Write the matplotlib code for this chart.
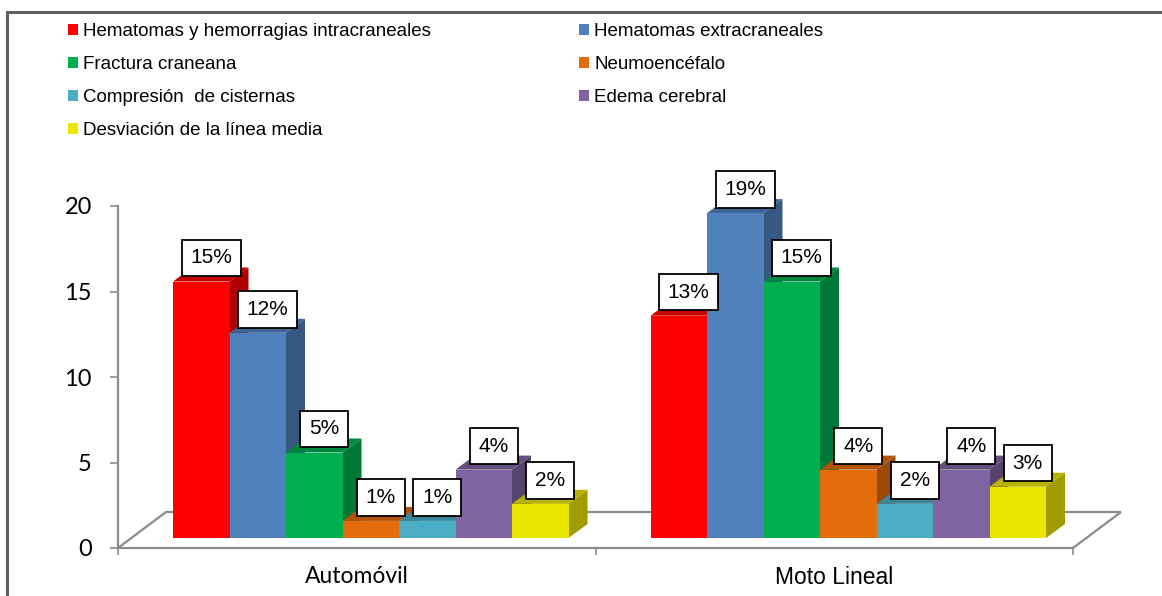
import matplotlib
matplotlib.use("Agg")
import matplotlib.pyplot as plt
from matplotlib.patches import Rectangle, Polygon, Patch
from matplotlib.colors import to_rgb

plt.rcParams["font.family"] = ["Liberation Sans", "DejaVu Sans"]

# ---------- data ----------
categories = ["Automóvil", "Moto Lineal"]
series = ["Hematomas y hemorragias intracraneales", "Hematomas extracraneales",
          "Fractura craneana", "Neumoencéfalo", "Compresión  de cisternas",
          "Edema cerebral", "Desviación de la línea media"]
automovil = [15, 12, 5, 1, 1, 4, 2]
moto_lineal = [13, 19, 15, 4, 2, 4, 3]
yticks = [0, 5, 10, 15, 20]
colors = ["#FF0000", "#4F81BD", "#00B050", "#E46C0A", "#4BACC6", "#8064A2", "#EBE600"]

GRAY = "#8C8C8C"; BORDER = "#5F5F5F"
W, H, DPI = 1162, 596, 100

def shade(c, f):
    return tuple(f * v for v in to_rgb(c))

fig = plt.figure(figsize=(W / DPI, H / DPI), dpi=DPI)
ax = fig.add_axes([118 / W, 48 / H, 955 / W, 342 / H])
ax.set_xlim(0, len(categories)); ax.set_ylim(yticks[0], yticks[-1])

# pixel -> data helpers for the oblique "3D" look
sx = ax.bbox.width / len(categories); sy = ax.bbox.height / (yticks[-1] - yticks[0])
def px(dx, dy): return dx / sx, dy / sy
FRONT = px(14, 10)   # bar front plane behind the axis plane
DEPTH = px(19, 14)   # bar depth
FLOOR = px(48, 36)   # floor depth
bw = 56.5 / sx

# floor outline
ax.plot([0, FLOOR[0], len(categories) + FLOOR[0], len(categories)], [0, FLOOR[1], FLOOR[1], 0],
        color=GRAY, lw=1.6, clip_on=False, zorder=1, solid_joinstyle="miter")

# bars: side, top, front; left to right so right neighbours sit in front
z = 3
for ci, vals in enumerate([automovil, moto_lineal]):
    x0 = ci + 0.5 - len(vals) * bw / 2
    for si, v in enumerate(vals):
        c = colors[si]
        xl = x0 + si * bw + FRONT[0]; xr = xl + bw
        yb = FRONT[1]; yt = yb + v
        ax.add_patch(Polygon([(xr, yb), (xr + DEPTH[0], yb + DEPTH[1]), (xr + DEPTH[0], yt + DEPTH[1]), (xr, yt)],
                             closed=True, fc=shade(c, 0.68), ec="none", zorder=z, clip_on=False))
        ax.add_patch(Polygon([(xl, yt), (xr, yt), (xr + DEPTH[0], yt + DEPTH[1]), (xl + DEPTH[0], yt + DEPTH[1])],
                             closed=True, fc=shade(c, 0.78), ec="none", zorder=z, clip_on=False))
        ax.add_patch(Rectangle((xl, yb), bw, v, fc=c, ec="none", zorder=z, clip_on=False))
        z += 1
        ax.annotate(f"{v}%", xy=(xl + bw / 2, yt), xytext=(10, 18), textcoords="offset pixels",
                    ha="center", va="baseline", fontsize=15, zorder=100,
                    bbox=dict(boxstyle="square,pad=0.42", fc="white", ec="black", lw=1.3))

# axes styling
for s in ["top", "right"]:
    ax.spines[s].set_visible(False)
for s in ["left", "bottom"]:
    ax.spines[s].set_color(GRAY); ax.spines[s].set_linewidth(1.6)
ax.set_yticks(yticks)
ax.tick_params(axis="y", direction="out", length=5.8, width=1.2, color=GRAY, pad=13, labelsize=17)
for lab in ax.get_yticklabels():
    lab.set_fontfamily(["Lato", "DejaVu Sans"])
ax.set_xticks(range(len(categories) + 1)); ax.set_xticklabels([])
ax.tick_params(axis="x", which="major", direction="out", length=5, width=1.2, color=GRAY)
ax.set_xticks([i + 0.5 for i in range(len(categories))], minor=True)
ax.set_xticklabels(categories, minor=True)
ax.tick_params(axis="x", which="minor", length=0, pad=13, labelsize=16.5)
cat_fonts = [["Lato", "DejaVu Sans"], ["Liberation Sans", "DejaVu Sans"]]
for lab, fam in zip(ax.get_xticklabels(minor=True), cat_fonts):
    lab.set_fontfamily(fam)

# legend in two columns, filled row-wise
handles = [Patch(fc=c, ec="none") for c in colors]
for idx, x in [([0, 2, 4, 6], 68), ([1, 3, 5], 579)]:
    fig.legend([handles[i] for i in idx], [series[i] for i in idx], loc="upper left",
               bbox_to_anchor=(x / W, 1 - 23 / H), frameon=False, fontsize=13.5,
               handlelength=0.55, handleheight=0.55, handletextpad=0.27,
               labelspacing=0.86, borderpad=0, borderaxespad=0)

# chart border (only left and top visible in frame)
fig.patches.append(Rectangle((7 / W, -0.1), 1.2, (H - 12) / H + 0.1, transform=fig.transFigure,
                             fill=False, ec=BORDER, lw=2.2))

fig.savefig("out.png", dpi=DPI)
